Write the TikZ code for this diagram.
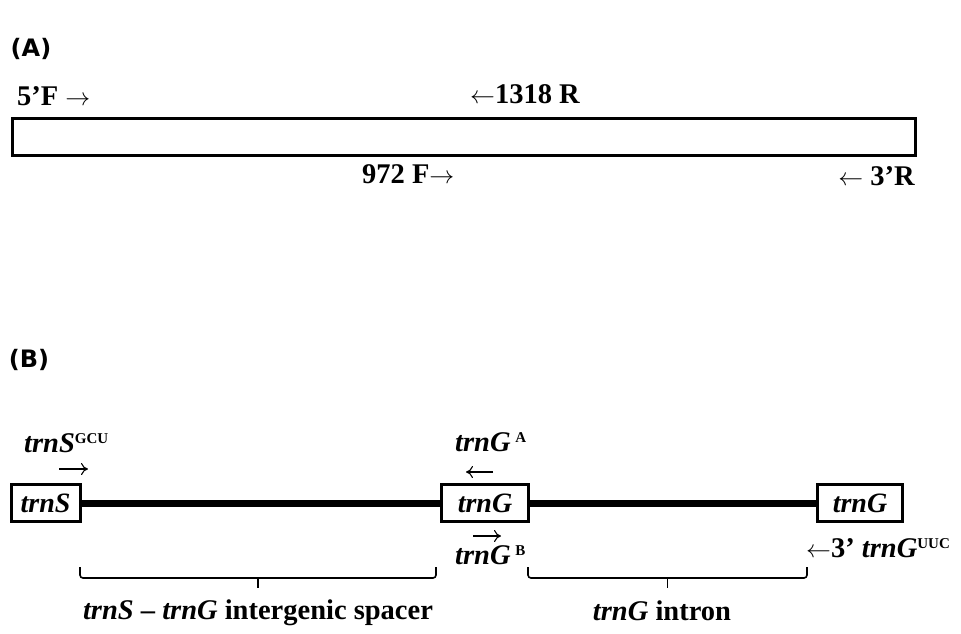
\documentclass[tikz,border=0pt]{standalone}
\usepackage{fontspec}
\setmainfont{Liberation Serif}
\newfontfamily\panelfont{DejaVu Sans}
\usepackage{tikz}
\usetikzlibrary{calc}
\usetikzlibrary{arrows.meta}
\usetikzlibrary{positioning}
\newcommand{\trn}[1]{\textit{trn#1}}
\newcommand{\sgn}[1]{\raisebox{0.62ex}{\fontsize{15}{15}\selectfont #1}}
\newcommand{\fw}{\ensuremath{\rightarrow}}
\newcommand{\bw}{\ensuremath{\leftarrow}}

\tikzset{
    lbl/.style={font=\fontsize{28.5}{31}\selectfont\bfseries,inner sep=0pt},
    panel/.style={font=\fontsize{24}{28}\selectfont\panelfont\bfseries,inner sep=0pt},
    genebox/.style={draw,line width=3pt,minimum height=37pt,inner sep=0pt,
        font=\fontsize{28}{31}\selectfont\bfseries},
    spine/.style={line width=7pt},
    primer/.style={line width=1.1pt,-{To[length=7pt,width=12pt]}},
    bracket/.style={line width=1.6pt,rounded corners=3pt}
}

\begin{document}
\begin{tikzpicture}[x=1pt,y=-1pt]
    \useasboundingbox (0,0) rectangle (961,633);
    % (A) whole region with its primers
    \node[panel] (pA) at (31,49) {(A)};
    \node[genebox,minimum width=903pt] (region) at (463.5,136.5) {};
    \node[lbl,anchor=base west] (p5F) at (17,105) {5’F\ \fw};
    \node[lbl,anchor=base west] (p1318R) at (470,103) {\bw1318 R};
    \node[lbl,anchor=base west] (p972F) at (362,183) {972 F\fw};
    \node[lbl,anchor=base east] (p3R) at (915,185) {\bw\ 3’R};

    % (B) trnS - trnG
    \node[panel] (pB) at (29,360) {(B)};
    \node[genebox,minimum width=69pt] (trnS) at (45.5,503) {\trn{S}};
    \node[genebox,minimum width=87pt] (trnGa) at (485,503) {\trn{G}};
    \node[genebox,minimum width=85pt] (trnGb) at (860,503) {\trn{G}};
    \draw[spine] (trnS) -- (trnGa);
    \draw[spine] (trnGa) -- (trnGb);

    \node[lbl,anchor=base west] (sGCU) at (24,452) {\trn{S}\sgn{GCU}};
    \node[lbl,anchor=base west] (gA) at (455,451) {\trn{G}\,\sgn{A}};
    \node[lbl,anchor=base west] (gB) at (455,564) {\trn{G}\,\sgn{B}};
    \node[lbl,anchor=base west] (gUUC) at (806,557) {\bw3’ \trn{G}\sgn{UUC}};
    % primer directions
    \coordinate (aGCU) at (59,469);
    \coordinate (aA) at (493,472);
    \coordinate (aB) at (473,536);
    \draw[primer] (aGCU) -- ++(29,0);
    \draw[primer] (aA) -- ++(-27,0);
    \draw[primer] (aB) -- ++(28,0);

    % brackets under the spacer and the intron
    \coordinate (s1) at (80,567);
    \coordinate (s2) at (436,567);
    \coordinate (i1) at (528,567);
    \coordinate (i2) at (807,567);
    \draw[bracket] (s1) -- ++(0,11) -- ($(s1)!0.5!(s2)+(0,11)$) -- (s2|-0,578) -- (s2);
    \draw[bracket] ($(s1)!0.5!(s2)+(0,11)$) -- ++(0,10);
    \draw[bracket] (i1) -- ++(0,11) -- ($(i1)!0.5!(i2)+(0,11)$) -- (i2|-0,578) -- (i2);
    \draw[bracket] ($(i1)!0.5!(i2)+(0,11)$) -- ++(0,10);
    \node[lbl,anchor=base] (spacer) at (258,619) {\trn{S} – \trn{G} intergenic spacer};
    \node[lbl,anchor=base] (intron) at (662,620) {\trn{G} intron};
\end{tikzpicture}
\end{document}
